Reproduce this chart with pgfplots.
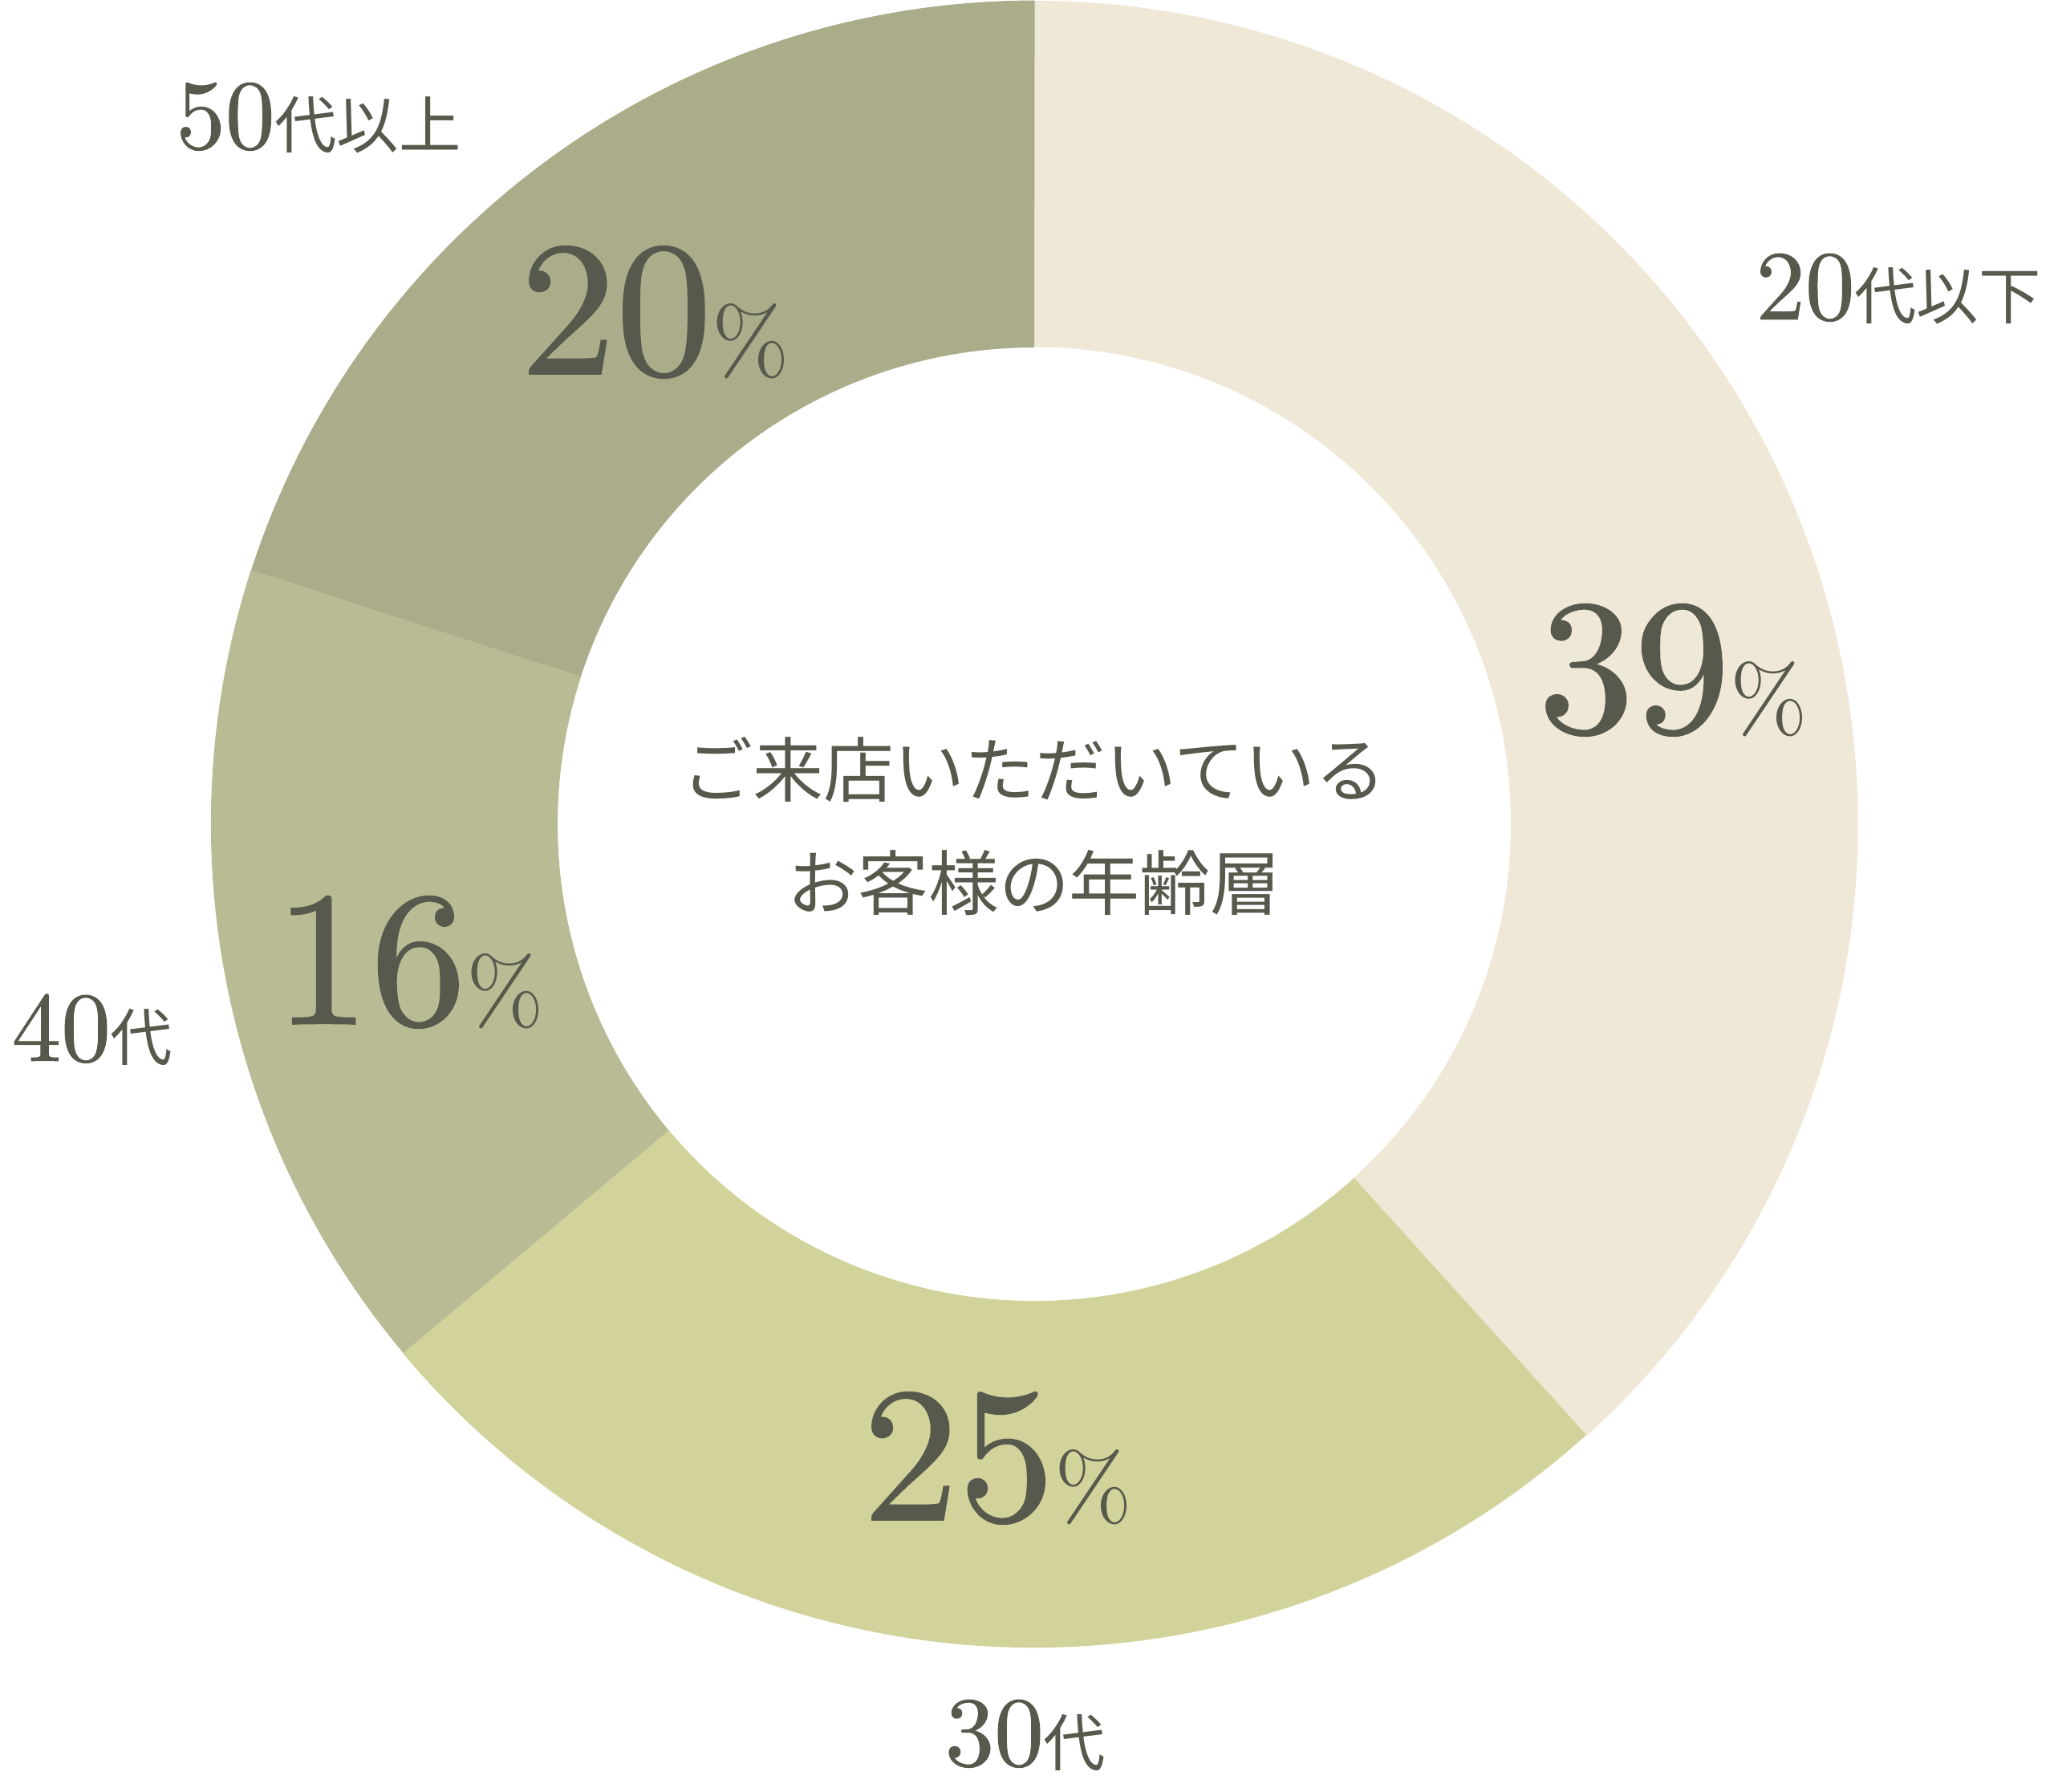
\documentclass[border=0pt]{standalone}
\usepackage{fontspec}
\usepackage{pgfplots}
\usepackage{pgfplotstable}
\pgfplotsset{compat=1.18}

\newfontfamily\cjk{Noto Sans CJK JP}
\newfontfamily\num{lmroman10-regular}[Extension=.otf, FakeBold=0.8]
\newfontfamily\numlight{lmroman10-regular}[Extension=.otf]

\definecolor{ink}{HTML}{57594C}
\definecolor{cA}{HTML}{F0E8D7}
\definecolor{cB}{HTML}{D2D39B}
\definecolor{cC}{HTML}{B8BB94}
\definecolor{cD}{HTML}{ABAC8A}

% share of customers by age group, percent (clockwise from the top)
\pgfplotstableread{
group share
20s 38.3
30s 25.6
40s 16.1
50s 20.0
}\agedata

% ring piece between two angles, radii 594 and 1026 axis units (1 unit = 0.01cm)
\newcommand\ringpart[3]{%
  \fill[#3] (axis cs:{594*cos(#1)},{594*sin(#1)})
    -- (axis cs:{1026*cos(#1)},{1026*sin(#1)})
    arc[start angle=#1, end angle=#2, radius=10.26cm]
    -- (axis cs:{594*cos(#2)},{594*sin(#2)})
    arc[start angle=#2, end angle=#1, radius=5.94cm] -- cycle;}

\newcommand\pct[1]{{\num\fontsize{68}{70}\selectfont #1}{\numlight\fontsize{33}{35}\selectfont\%}}
\newcommand\grp[2]{{\num\fontsize{35}{36}\selectfont #1}{\cjk\fontsize{22}{24}\selectfont #2}}

\begin{document}
\begin{tikzpicture}
\pgfplotstablegetelem{0}{share}\of\agedata \let\sA\pgfplotsretval
\pgfplotstablegetelem{1}{share}\of\agedata \let\sB\pgfplotsretval
\pgfplotstablegetelem{2}{share}\of\agedata \let\sC\pgfplotsretval
\pgfplotstablegetelem{3}{share}\of\agedata \let\sD\pgfplotsretval
\pgfmathsetmacro\aA{90}
\pgfmathsetmacro\aB{\aA-3.6*\sA}
\pgfmathsetmacro\aC{\aB-3.6*\sB}
\pgfmathsetmacro\aD{\aC-3.6*\sC}
\pgfmathsetmacro\aE{\aD-3.6*\sD}
\begin{axis}[
    x=0.01cm, y=0.01cm,
    xmin=-1289, xmax=1271,
    ymin=-1205, ymax=1027,
    hide axis, clip=false,
  ]
  \path (axis cs:-1289,-1205) rectangle (axis cs:1271,1027);

  \ringpart{\aA}{\aB}{cA}
  \ringpart{\aB}{\aC}{cB}
  \ringpart{\aC}{\aD}{cC}
  \ringpart{\aD}{\aE}{cD}

  \begin{scope}[every node/.style={text=ink, inner sep=0pt, anchor=base}]
    \node at (axis cs:796,115) {\pct{39}};
    \node at (axis cs:-46,-867) {\pct{25}};
    \node at (axis cs:-779,-249) {\pct{16}};
    \node at (axis cs:-473,561) {\pct{20}};

    \node at (axis cs:1077,629) {\grp{20}{代以下}};
    \node at (axis cs:-11,-1173) {\grp{30}{代}};
    \node at (axis cs:-1174,-295) {\grp{40}{代}};
    \node at (axis cs:-892,842) {\grp{50}{代以上}};

    \node at (axis cs:0,34) {\cjk\fontsize{25}{26}\selectfont ご来店いただいている};
    \node at (axis cs:0,-107) {\cjk\fontsize{25}{26}\selectfont お客様の年齢層};
  \end{scope}
\end{axis}
\end{tikzpicture}
\end{document}
